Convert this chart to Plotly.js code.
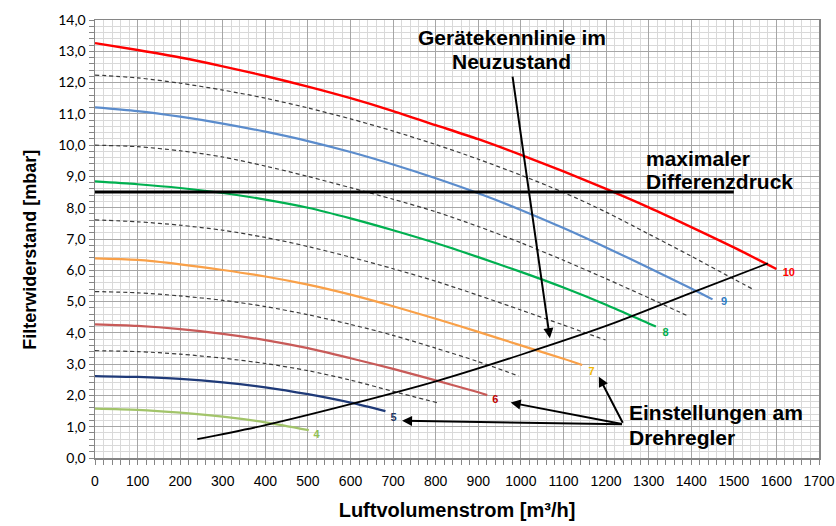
<!DOCTYPE html>
<html>
<head>
<meta charset="utf-8">
<script src="https://cdn.plot.ly/plotly-3.0.1.min.js"></script>
<style>html,body{margin:0;padding:0;background:#fff;}#chart{width:836px;height:526px;}</style>
</head>
<body>
<div id="chart"></div>
<script>
// ---- Data ----
const x10 = [0,100,200,300,400,500,600,700,800,900,1000,1100,1200,1300,1400,1500,1600];
const y10 = [13.26,13.04,12.80,12.52,12.21,11.87,11.50,11.09,10.64,10.19,9.69,9.16,8.60,8.01,7.38,6.73,6.04];
const x9 = [0,100,200,300,400,500,600,700,800,900,1000,1100,1200,1300,1400,1450];
const y9 = [11.21,11.09,10.91,10.69,10.43,10.13,9.78,9.38,8.94,8.46,7.93,7.35,6.73,6.08,5.42,5.07];
const x8 = [0,100,200,300,400,500,600,700,800,900,1000,1100,1200,1300,1317];
const y8 = [8.84,8.75,8.63,8.47,8.26,8.00,7.66,7.28,6.87,6.42,5.95,5.45,4.90,4.30,4.20];
const x7 = [0,100,200,300,400,500,600,700,800,900,1000,1100,1144];
const y7 = [6.38,6.33,6.19,6.01,5.80,5.54,5.22,4.85,4.45,4.03,3.60,3.17,2.97];
const x6 = [0,100,200,300,400,500,600,700,800,900,921];
const y6 = [4.27,4.22,4.12,3.97,3.77,3.51,3.19,2.85,2.48,2.10,2.01];
const x5 = [0,100,200,300,400,500,600,682];
const y5 = [2.62,2.59,2.53,2.42,2.26,2.04,1.77,1.50];
const x4 = [0,100,200,300,400,502];
const y4 = [1.58,1.54,1.45,1.32,1.14,0.89];

const xd95 = [0,100,200,300,400,500,600,700,800,900,1000,1100,1200,1300,1400,1500,1548];
const yd95 = [12.24,12.15,11.98,11.76,11.50,11.19,10.84,10.45,10.02,9.55,9.04,8.49,7.86,7.16,6.45,5.72,5.37];
const xd85 = [0,100,200,300,400,500,600,700,800,900,1000,1100,1200,1300,1395];
const yd85 = [10.0,9.95,9.82,9.62,9.33,9.0,8.64,8.27,7.87,7.4,6.88,6.32,5.73,5.12,4.52];
const xd75 = [0,100,200,300,400,500,600,700,800,900,1000,1100,1199];
const yd75 = [7.61,7.55,7.44,7.28,7.05,6.76,6.42,6.05,5.65,5.20,4.73,4.25,3.77];
const xd65 = [0,100,200,300,400,500,600,700,800,900,995];
const yd65 = [5.32,5.28,5.18,5.04,4.84,4.58,4.27,3.92,3.51,3.08,2.62];
const xd55 = [0,100,200,300,400,500,600,700,803];
const yd55 = [3.43,3.40,3.32,3.19,3.02,2.79,2.49,2.13,1.77];

const xKenn = [240,400,600,800,1000,1200,1400,1580];
const yKenn = [0.6,1.05,1.72,2.45,3.3,4.22,5.28,6.22];

const xMax = [0,1500];
const yMax = [8.5,8.5];

const settingLabels = ["10","9","8","7","6","5","4"];
const settingLabelX = [1629,1477,1340,1166,940,701,520];
const settingLabelY = [5.91,4.99,4.0,2.75,1.85,1.28,0.74];
const settingLabelColors = ["#FF0000","#2E7BC4","#00B050","#F2B705","#C00000","#1F3864","#92C050"];

const xTitle = "Luftvolumenstrom [m³/h]";
const yTitle = "Filterwiderstand [mbar]";

// ---- Traces ----
function solid(x, y, color, w) {
  return {x: x, y: y, type: "scatter", mode: "lines", line: {color: color, width: w, shape: "spline", smoothing: 0.8}, hoverinfo: "skip"};
}
function dashed(x, y) {
  return {x: x, y: y, type: "scatter", mode: "lines", line: {color: "#3A3A3A", width: 1.2, dash: "4px,3px", shape: "spline", smoothing: 0.8}, hoverinfo: "skip"};
}

const traces = [
  dashed(xd95, yd95), dashed(xd85, yd85), dashed(xd75, yd75), dashed(xd65, yd65), dashed(xd55, yd55),
  solid(x4, y4, "#A2C46A", 2.2),
  solid(x5, y5, "#1F3A78", 2.2),
  solid(x6, y6, "#C85A58", 2.2),
  solid(x7, y7, "#F9A048", 2.2),
  solid(x8, y8, "#00B050", 2.2),
  solid(x9, y9, "#5B8CCC", 2.2),
  solid(x10, y10, "#FF0000", 2.4),
  {x: xMax, y: yMax, type: "scatter", mode: "lines", line: {color: "#000000", width: 3}, hoverinfo: "skip"},
  solid(xKenn, yKenn, "#000000", 1.8),
  {x: settingLabelX, y: settingLabelY, type: "scatter", mode: "text", text: settingLabels,
   textfont: {family: "Liberation Sans, Arial, sans-serif", size: 11, color: settingLabelColors, weight: "bold"},
   textposition: "middle center", hoverinfo: "skip"}
];

const annFont = {family: "Liberation Sans, Arial, sans-serif", size: 21, color: "#000", weight: "bold"};
function txt(t, x, y, xa) {
  return {x: x, y: y, xref: "x", yref: "y", text: t, showarrow: false, font: annFont, xanchor: xa, yanchor: "middle"};
}
function arrow(x, y, ax, ay) {
  return {x: x, y: y, ax: ax, ay: ay, xref: "x", yref: "y", axref: "x", ayref: "y", text: "", showarrow: true, arrowhead: 2, arrowsize: 1, arrowwidth: 2, arrowcolor: "#000"};
}

const annotations = [
  txt("Gerätekennlinie im", 978, 13.43, "center"),
  txt("Neuzustand", 978, 12.68, "center"),
  arrow(1068, 3.83, 980, 12.24),
  txt("maximaler", 1288, 9.56, "left"),
  txt("Differenzdruck", 1288, 8.83, "left"),
  txt("Einstellungen am", 1250, 1.44, "left"),
  txt("Drehregler", 1250, 0.64, "left"),
  arrow(1183, 2.6, 1241, 1.08),
  arrow(976, 1.77, 1241, 1.08),
  arrow(721, 1.19, 1241, 1.08),
  {x: -0.09, y: 0.475, xref: "paper", yref: "paper", text: yTitle, textangle: -90, showarrow: false,
   font: {family: "Liberation Sans, Arial, sans-serif", size: 18, color: "#000", weight: "bold"}, xanchor: "center", yanchor: "middle"}
];

const layout = {
  width: 836, height: 526,
  margin: {l: 95, r: 17, t: 20, b: 68},
  paper_bgcolor: "#fff", plot_bgcolor: "#fff",
  showlegend: false,
  separators: ",.",
  xaxis: {
    range: [0, 1700], dtick: 100, tick0: 0,
    showgrid: true, gridcolor: "#A6A6A6", gridwidth: 1,
    showline: true, linecolor: "#868686", linewidth: 1.5, mirror: true,
    ticks: "outside", ticklen: 5, tickcolor: "#868686",
    ticklabelstandoff: 5,
    minor: {dtick: 20, showgrid: true, gridcolor: "#D9D9D9", gridwidth: 1, ticks: "outside", ticklen: 5, tickcolor: "#868686"},
    zeroline: false,
    tickfont: {family: "Liberation Sans Narrow, Arial Narrow, sans-serif", size: 14, color: "#000"},
    title: {text: xTitle, font: {family: "Liberation Sans Narrow, Arial Narrow, sans-serif", size: 20, color: "#000", weight: "bold"}, standoff: 14}
  },
  yaxis: {
    range: [0, 14], dtick: 1, tick0: 0, tickformat: ".1f",
    showgrid: true, gridcolor: "#A6A6A6", gridwidth: 1,
    showline: true, linecolor: "#868686", linewidth: 1.5, mirror: true,
    ticks: "outside", ticklen: 5, tickcolor: "#868686",
    minor: {dtick: 0.2, showgrid: true, gridcolor: "#D9D9D9", gridwidth: 1, ticks: "outside", ticklen: 5, tickcolor: "#868686"},
    zeroline: false,
    tickfont: {family: "Lato, Liberation Sans, sans-serif", size: 14, color: "#000"}
  },
  annotations: annotations
};

Plotly.newPlot("chart", traces, layout, {staticPlot: true, displayModeBar: false});
</script>
</body>
</html>
